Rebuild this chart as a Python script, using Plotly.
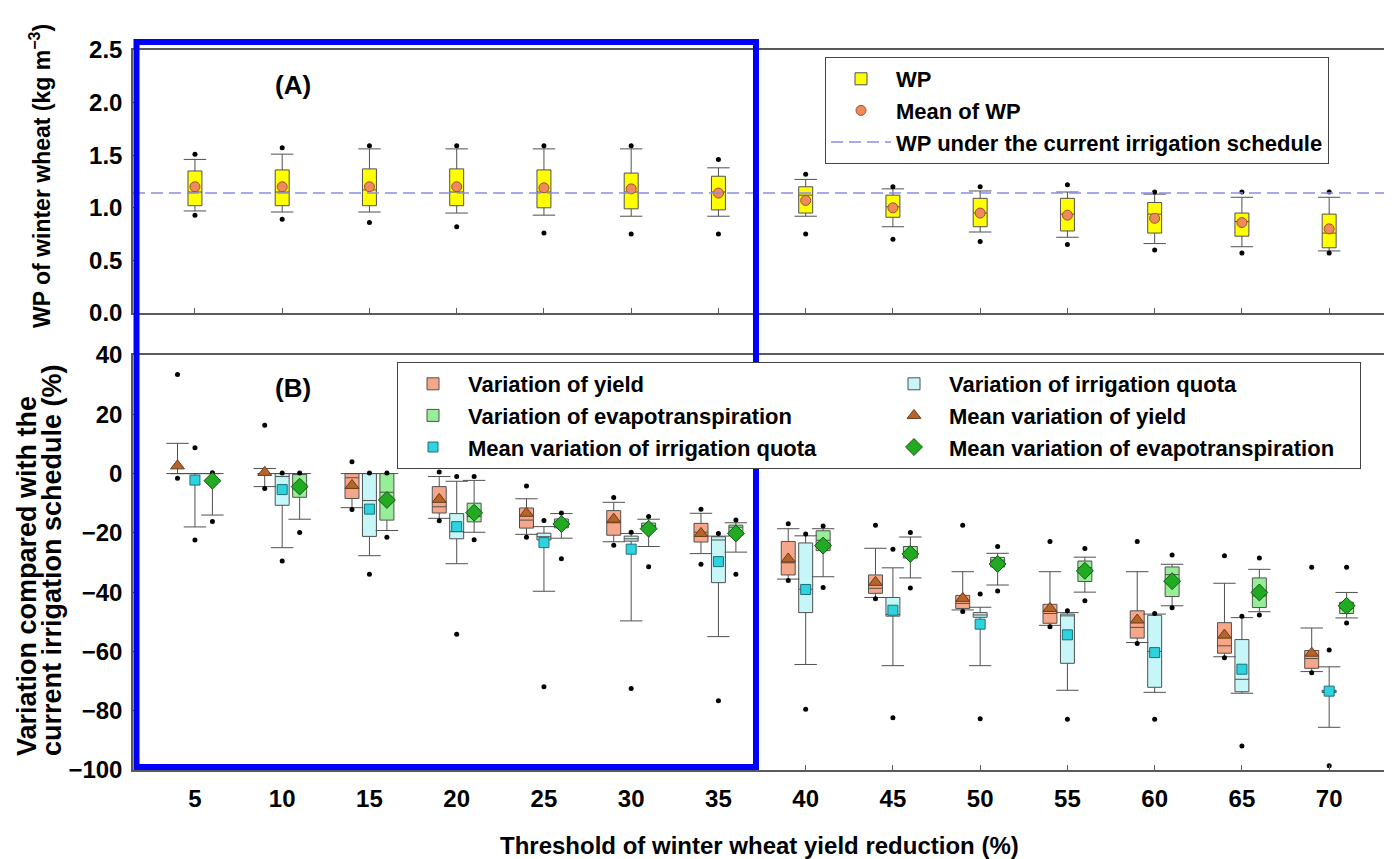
import plotly.graph_objects as go

# ---------------- data ----------------
thresholds = [5, 10, 15, 20, 25, 30, 35, 40, 45, 50, 55, 60, 65, 70]

# Panel A: water productivity (kg m-3)
wp_out_hi = [1.51, 1.57, 1.59, 1.59, 1.59, 1.59, 1.46, 1.32, 1.20, 1.20, 1.22, 1.15, 1.15, 1.15]
wp_hi     = [1.46, 1.51, 1.56, 1.56, 1.56, 1.56, 1.38, 1.27, 1.18, 1.16, 1.15, 1.13, 1.10, 1.10]
wp_q3     = [1.35, 1.36, 1.37, 1.37, 1.36, 1.33, 1.30, 1.20, 1.12, 1.09, 1.09, 1.05, 0.95, 0.94]
wp_med    = [1.15, 1.15, 1.17, 1.15, 1.15, 1.15, 1.15, 1.12, 1.01, 0.95, 0.94, 0.94, 0.87, 0.76]
wp_mean   = [1.20, 1.20, 1.20, 1.20, 1.19, 1.18, 1.14, 1.07, 1.00, 0.95, 0.93, 0.90, 0.86, 0.80]
wp_q1     = [1.02, 1.02, 1.02, 1.02, 1.00, 0.99, 0.98, 0.95, 0.91, 0.82, 0.78, 0.76, 0.73, 0.62]
wp_lo     = [0.97, 0.96, 0.96, 0.95, 0.93, 0.92, 0.92, 0.92, 0.82, 0.77, 0.72, 0.66, 0.63, 0.59]
wp_out_lo = [0.93, 0.89, 0.86, 0.82, 0.76, 0.75, 0.75, 0.75, 0.70, 0.68, 0.65, 0.60, 0.57, 0.57]
wp_current = 1.14

# Panel B: variation of yield (%)
yld_out_hi = [33.4, 16.3, 4.0, 0.5, -4.2, -8.1, -12.0, -16.9, -17.4, -17.4, -22.9, -22.9, -27.7, -31.6]
yld_hi     = [10.2, 1.7, 0.0, -1.0, -8.5, -9.7, -13.4, -18.6, -25.2, -33.1, -33.1, -33.1, -37.0, -52.1]
yld_q3     = [0.0, 0.0, 0.0, -4.4, -11.6, -12.5, -16.8, -22.9, -34.2, -41.1, -44.1, -46.3, -50.3, -59.7]
yld_med    = [0.0, 0.0, -1.4, -11.2, -15.7, -16.6, -19.8, -30.1, -38.7, -43.8, -47.2, -51.9, -58.1, -62.4]
yld_mean   = [2.6, 0.4, -4.0, -8.7, -13.4, -15.4, -20.2, -28.8, -36.7, -42.1, -45.5, -49.4, -54.5, -60.6]
yld_q1     = [0.0, 0.0, -8.4, -13.3, -18.4, -20.8, -23.1, -34.2, -40.4, -45.5, -50.5, -55.5, -60.6, -65.7]
yld_lo     = [0.0, -4.4, -11.5, -15.1, -20.5, -23.0, -27.0, -35.6, -41.8, -46.0, -51.2, -57.0, -61.8, -66.8]
yld_out_lo = [-1.6, -5.0, -12.1, -15.9, -21.5, -24.2, -30.6, -36.1, -42.2, -46.5, -51.7, -57.3, -62.1, -67.2]

# Panel B: variation of irrigation quota (%)
irr_out_hi = [8.7, 0.2, 0.2, -1.0, -15.8, -19.8, -20.2, -20.4, -25.5, -40.6, -46.3, -47.2, -48.1, -59.5]
irr_hi     = [0.0, 0.0, 0.0, -2.6, -17.9, -20.2, -21.1, -21.0, -31.8, -45.1, -46.9, -47.4, -48.6, -65.2]
irr_q3     = [0.0, 0.0, 0.0, -13.5, -20.1, -21.1, -21.3, -23.4, -41.8, -46.9, -47.4, -47.8, -56.0, -73.1]
irr_med    = [0.0, -1.0, -9.1, -19.6, -21.3, -22.0, -22.4, -39.0, -47.5, -47.7, -48.0, -60.0, -69.4, -73.4]
irr_mean   = [-2.2, -5.4, -12.0, -17.9, -23.3, -25.5, -29.7, -39.1, -46.1, -50.8, -54.4, -60.4, -66.0, -73.4]
irr_q1     = [0.0, -10.7, -21.2, -22.0, -22.4, -22.8, -36.8, -46.9, -48.1, -48.5, -64.0, -72.1, -73.6, -73.9]
irr_lo     = [-18.0, -25.0, -27.7, -30.4, -39.7, -49.7, -55.0, -64.4, -64.8, -64.8, -73.1, -73.8, -74.1, -85.6]
irr_out_lo = [-22.4, -29.5, -34.0, -54.2, -71.9, -72.5, -76.6, -79.5, -82.4, -82.7, -82.9, -82.9, -91.9, -98.6]

# Panel B: variation of evapotranspiration (%)
et_out_hi = [0.3, 0.2, 0.2, -1.0, -13.3, -14.5, -15.7, -17.7, -19.9, -24.6, -25.3, -27.5, -28.5, -31.6]
et_hi     = [0.0, 0.0, 0.0, -2.3, -13.5, -15.4, -16.6, -18.6, -21.4, -26.9, -28.2, -30.6, -32.3, -40.1]
et_q3     = [0.0, 0.0, 0.0, -10.0, -15.3, -16.7, -17.4, -19.3, -24.6, -28.3, -29.5, -31.5, -35.2, -43.4]
et_med    = [0.0, 0.0, -6.3, -14.5, -16.6, -17.5, -18.1, -22.5, -26.4, -29.2, -31.7, -34.1, -41.3, -45.5]
et_mean   = [-2.4, -4.4, -8.9, -13.2, -17.0, -18.6, -20.2, -24.3, -27.1, -30.5, -32.8, -36.3, -40.1, -44.6]
et_q1     = [0.0, -8.0, -15.7, -16.3, -18.3, -18.7, -20.9, -26.0, -28.5, -31.5, -36.4, -41.5, -45.2, -47.2]
et_lo     = [-14.0, -15.4, -19.2, -19.8, -21.8, -24.6, -26.5, -34.8, -35.2, -37.6, -40.0, -44.6, -46.6, -48.7]
et_out_lo = [-16.2, -19.9, -21.5, -22.3, -28.7, -31.4, -34.0, -38.4, -38.6, -39.6, -42.9, -45.3, -47.7, -50.4]

# ---------------- style ----------------
FONT = "Liberation Sans, Arial, Helvetica, sans-serif"
AX = "#5a5a5a"
BOX_LINE = "#505050"
X_RANGE = [1.45, 73.2]
BOX_W = 0.8

fig = go.Figure()


def add_series(xs, q1, med, q3, lo, hi, out_hi, out_lo, fill, name, xa, ya, lg):
    fig.add_trace(go.Box(
        x=xs, q1=q1, median=med, q3=q3, lowerfence=lo, upperfence=hi,
        orientation="v", width=BOX_W, whiskerwidth=0, boxpoints=False,
        fillcolor=fill, line=dict(color=BOX_LINE, width=1),
        name=name, xaxis=xa, yaxis=ya, legend=lg, hoverinfo="skip"))
    # whisker caps
    fig.add_trace(go.Scatter(
        x=xs + xs, y=lo + hi, mode="markers", showlegend=False, hoverinfo="skip",
        marker=dict(symbol="line-ew", size=16, color=BOX_LINE,
                    line=dict(color=BOX_LINE, width=1)),
        xaxis=xa, yaxis=ya))
    # outliers
    fig.add_trace(go.Scatter(
        x=xs + xs, y=out_hi + out_lo, mode="markers", showlegend=False,
        marker=dict(size=5, color="black"), xaxis=xa, yaxis=ya))


# ---- panel A ----
add_series(thresholds, wp_q1, wp_med, wp_q3, wp_lo, wp_hi, wp_out_hi, wp_out_lo,
           "#FFFF00", "WP", "x2", "y2", "legend")
fig.add_trace(go.Scatter(
    x=thresholds, y=wp_mean, mode="markers", name="Mean of WP",
    marker=dict(symbol="circle", size=10, color="#EE8A5C", line=dict(color="#A0502A", width=1)),
    xaxis="x2", yaxis="y2", legend="legend"))
fig.add_trace(go.Scatter(
    x=X_RANGE, y=[wp_current, wp_current], mode="lines",
    name="WP under the current irrigation schedule",
    line=dict(color="#8C8CE6", width=1.5, dash="12px,6px"),
    xaxis="x2", yaxis="y2", legend="legend", hoverinfo="skip"))

# ---- panel B ----
x_yld = [t - 1 for t in thresholds]
x_irr = [t for t in thresholds]
x_et = [t + 1 for t in thresholds]
add_series(x_yld, yld_q1, yld_med, yld_q3, yld_lo, yld_hi, yld_out_hi, yld_out_lo,
           "#F6A789", "Variation of yield", "x", "y", "legend2")
add_series(x_irr, irr_q1, irr_med, irr_q3, irr_lo, irr_hi, irr_out_hi, irr_out_lo,
           "#C6F6F8", "Variation of irrigation quota", "x", "y", "legend2")
add_series(x_et, et_q1, et_med, et_q3, et_lo, et_hi, et_out_hi, et_out_lo,
           "#98EE98", "Variation of evapotranspiration", "x", "y", "legend2")
fig.add_trace(go.Scatter(
    x=x_yld, y=yld_mean, mode="markers", name="Mean variation of yield",
    marker=dict(symbol="triangle-up", size=12, color="#B5642A", line=dict(color="#6B3A16", width=1)),
    xaxis="x", yaxis="y", legend="legend2"))
fig.add_trace(go.Scatter(
    x=x_irr, y=irr_mean, mode="markers", name="Mean variation of irrigation quota",
    marker=dict(symbol="square", size=10, color="#2ED3E0", line=dict(color="#1F6F78", width=1)),
    xaxis="x", yaxis="y", legend="legend2"))
fig.add_trace(go.Scatter(
    x=x_et, y=et_mean, mode="markers", name="Mean variation of evapotranspiration",
    marker=dict(symbol="diamond", size=13, color="#22AA22", line=dict(color="#115511", width=1)),
    xaxis="x", yaxis="y", legend="legend2"))

# ---------------- layout ----------------
# the page places the figure 8 px from the window's top-left corner
OFF = 8
W, H = 1392 - OFF, 859 - OFF
PL, PR, PT, PB = 133, 1385, 50, 770        # plot area in window pixels
ML, MR, MT, MB = PL - OFF, (W + OFF) - PR, PT - OFF, (H + OFF) - PB
PW, PH = PR - PL, PB - PT


def px_x(px):
    return (px - PL) / PW


def px_y(py):
    return (PB - py) / PH


axis_common = dict(showline=True, mirror=True, linecolor=AX, linewidth=1.5,
                   showgrid=False, zeroline=False, ticks="inside", ticklen=5,
                   tickcolor=AX, tickwidth=1)

fig.update_layout(
    width=W, height=H,
    margin=dict(l=ML, r=MR, t=MT, b=MB, autoexpand=False),
    paper_bgcolor="white", plot_bgcolor="white",
    font=dict(family=FONT, color="black", weight="bold"),
    boxmode="overlay",
    xaxis=dict(domain=[0, 1], anchor="y", range=X_RANGE, tickvals=thresholds,
               tickfont=dict(size=24, family=FONT, weight="bold"),
               ticklabelstandoff=6, **axis_common),
    yaxis=dict(domain=[0, px_y(355)], anchor="x", range=[-100, 40], dtick=20,
               tickfont=dict(size=24, family=FONT, weight="bold"),
               ticklabelstandoff=4, **axis_common),
    xaxis2=dict(domain=[0, 1], anchor="y2", matches="x", range=X_RANGE,
                tickvals=thresholds, showticklabels=False, **axis_common),
    yaxis2=dict(domain=[px_y(313), 1], anchor="x2", range=[0, 2.5], dtick=0.5,
                tickformat=".1f", tickfont=dict(size=24, family=FONT, weight="bold"),
                ticklabelstandoff=4, **axis_common),
    legend=dict(x=px_x(825), y=px_y(57), xanchor="left", yanchor="top",
                bgcolor="white", bordercolor="#444", borderwidth=1,
                font=dict(size=22, family=FONT, weight="bold"),
                itemwidth=60, tracegroupgap=0),
    legend2=dict(x=px_x(397), y=px_y(362), xanchor="left", yanchor="top",
                 orientation="h", entrywidth=406, entrywidthmode="pixels",
                 bgcolor="white", bordercolor="#444", borderwidth=1,
                 font=dict(size=22, family=FONT, weight="bold"),
                 itemwidth=60, tracegroupgap=0),
    annotations=[
        dict(text="(A)", x=px_x(293), y=px_y(85), xref="paper", yref="paper",
             xanchor="center", yanchor="middle", showarrow=False,
             font=dict(size=26, family=FONT, weight="bold")),
        dict(text="(B)", x=px_x(293), y=px_y(388), xref="paper", yref="paper",
             xanchor="center", yanchor="middle", showarrow=False,
             font=dict(size=26, family=FONT, weight="bold")),
        dict(text="WP of winter wheat (kg m<sup>\u22123</sup>)", textangle=-90,
             x=px_x(40), y=px_y(330), xref="paper", yref="paper",
             xanchor="center", yanchor="bottom", showarrow=False,
             font=dict(size=23, family=FONT, weight="bold")),
        dict(text="Variation compared with the", textangle=-90,
             x=px_x(27), y=px_y(758), xref="paper", yref="paper",
             xanchor="center", yanchor="bottom", showarrow=False,
             font=dict(size=27, family=FONT, weight="bold")),
        dict(text="current irrigation schedule (%)", textangle=-90,
             x=px_x(52), y=px_y(758), xref="paper", yref="paper",
             xanchor="center", yanchor="bottom", showarrow=False,
             font=dict(size=27, family=FONT, weight="bold")),
        dict(text="Threshold of winter wheat yield reduction (%)",
             x=0.5, y=px_y(845), xref="paper", yref="paper",
             xanchor="center", yanchor="middle", showarrow=False,
             font=dict(size=24, family=FONT, weight="bold")),
    ],
    shapes=[
        dict(type="rect", xref="paper", yref="paper",
             x0=px_x(136.5), x1=px_x(756), y0=px_y(767), y1=px_y(42),
             line=dict(color="#0000FF", width=6), fillcolor="rgba(0,0,0,0)",
             layer="above"),
    ],
)

fig.write_html("out.html")
